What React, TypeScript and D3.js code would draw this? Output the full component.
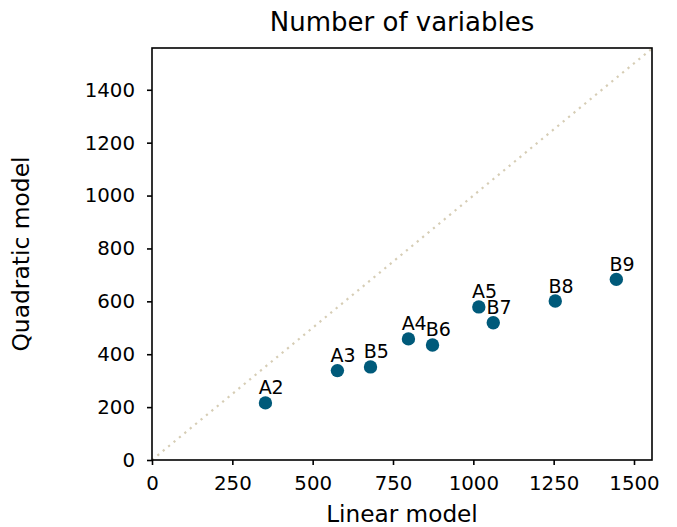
import React, { useEffect, useRef } from 'react';
import * as d3 from 'd3';

const labels = ['A2', 'A3', 'B5', 'A4', 'B6', 'A5', 'B7', 'B8', 'B9'];
const linearVals = [353, 577, 680, 798, 873, 1017, 1062, 1255, 1445];
const quadraticVals = [216, 338, 352, 458, 435, 579, 519, 601, 683];
const xTicks = [0, 250, 500, 750, 1000, 1250, 1500];
const yTicks = [0, 200, 400, 600, 800, 1000, 1200, 1400];

export default function App() {
  const svgRef = useRef<SVGSVGElement>(null);

  useEffect(() => {
    if (!svgRef.current) return;
    const width = 677;
    const height = 527;
    const margin = { top: 48, right: 25, bottom: 67, left: 152 };
    const font = 'DejaVu Sans, sans-serif';

    const svg = d3.select(svgRef.current);
    svg.selectAll('*').remove();

    const x = d3.scaleLinear().domain([0, 1556]).range([margin.left, width - margin.right]);
    const y = d3.scaleLinear().domain([0, 1558]).range([height - margin.bottom, margin.top]);

    // diagonal reference
    svg.append('line')
      .attr('x1', x(0)).attr('y1', y(0))
      .attr('x2', x(1556)).attr('y2', y(1556))
      .attr('stroke', '#d6cdb5')
      .attr('stroke-width', 2.2)
      .attr('stroke-dasharray', '2.2 4.8');

    const data = labels.map((l, i) => ({ label: l, lin: linearVals[i], quad: quadraticVals[i] }));

    svg.selectAll('circle.pt')
      .data(data)
      .enter()
      .append('circle')
      .attr('cx', d => x(d.lin))
      .attr('cy', d => y(d.quad))
      .attr('r', 6.7)
      .attr('fill', '#005a7a');

    svg.selectAll('text.pt')
      .data(data)
      .enter()
      .append('text')
      .attr('x', d => x(d.lin) - 6.8)
      .attr('y', d => y(d.quad) - 8.5)
      .attr('font-family', font)
      .attr('font-size', '19px')
      .attr('fill', '#000')
      .text(d => d.label);

    // axes
    const xAxis = svg.append('g')
      .attr('transform', `translate(0,${height - margin.bottom})`)
      .call(d3.axisBottom(x).tickValues(xTicks).tickSize(5).tickPadding(11).tickFormat(d3.format('d')));
    const yAxis = svg.append('g')
      .attr('transform', `translate(${margin.left},0)`)
      .call(d3.axisLeft(y).tickValues(yTicks).tickSize(5).tickPadding(12).tickFormat(d3.format('d')));
    [xAxis, yAxis].forEach(a => {
      a.select('.domain').remove();
      a.selectAll('line').attr('stroke', '#000').attr('stroke-width', 1.6);
      a.selectAll('text').attr('fill', '#000').attr('font-family', font).attr('font-size', '19.8px');
    });

    // frame
    svg.append('rect')
      .attr('x', margin.left)
      .attr('y', margin.top)
      .attr('width', width - margin.left - margin.right)
      .attr('height', height - margin.top - margin.bottom)
      .attr('fill', 'none')
      .attr('stroke', '#000')
      .attr('stroke-width', 1.6);

    svg.append('text')
      .attr('x', (margin.left + width - margin.right) / 2)
      .attr('y', 31)
      .attr('text-anchor', 'middle')
      .attr('font-family', font)
      .attr('font-size', '26px')
      .text('Number of variables');

    svg.append('text')
      .attr('x', (margin.left + width - margin.right) / 2)
      .attr('y', 522)
      .attr('text-anchor', 'middle')
      .attr('font-family', font)
      .attr('font-size', '23.2px')
      .text('Linear model');

    svg.append('text')
      .attr('transform', `translate(29,${(margin.top + height - margin.bottom) / 2}) rotate(-90)`)
      .attr('text-anchor', 'middle')
      .attr('font-family', font)
      .attr('font-size', '23.4px')
      .text('Quadratic model');
  }, []);

  return (
    <svg
      ref={svgRef}
      width={677}
      height={527}
      style={{ position: 'absolute', left: 0, top: 0, background: '#fff' }}
    />
  );
}
